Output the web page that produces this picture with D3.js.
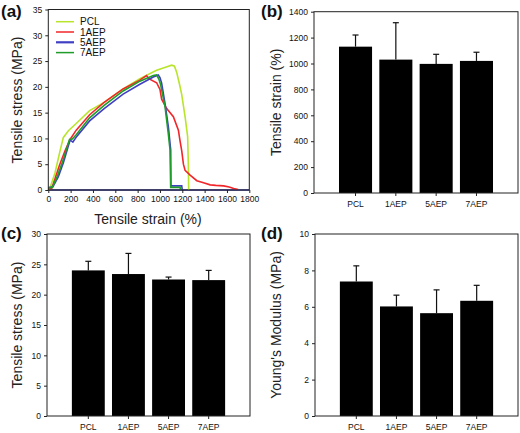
<!DOCTYPE html>
<html><head><meta charset="utf-8">
<script src="https://cdn.jsdelivr.net/npm/d3@7"></script>
<style>
html,body{margin:0;padding:0;background:#fff;}
svg{display:block;font-family:"Liberation Sans",Arial,sans-serif;}
</style></head>
<body><svg id="c" width="520" height="433"></svg>
<script>
// ---------- Data ----------
const curveNames = ["PCL","1AEP","5AEP","7AEP"];
const curveColors = ["#b8e42a","#f2262a","#3f3fc4","#1f9c2a"];
const pclCurve = [[0,0],[15,0.4],[60,3.3],[105,7.6],[135,10.2],[180,11.5],[250,12.9],[370,15.4],[500,17.0],[670,19.6],[820,21.6],[970,23.2],[1050,23.8],[1105,24.2],[1130,24.0],[1150,22.8],[1175,20.5],[1195,18.5],[1225,14.2],[1248,10.3],[1254,5],[1257,0]];
const aep1Curve = [[0,0.2],[30,0.3],[60,2.2],[100,4.8],[150,7.6],[195,9.8],[250,11.6],[370,14.6],[500,17.0],[670,19.6],[820,21.3],[880,22.2],[900,21.6],[970,20.8],[1000,19.5],[1015,17.6],[1060,15.8],[1120,14.2],[1165,11.6],[1180,9.5],[1195,7.6],[1210,5],[1225,3.8],[1270,2.9],[1330,1.8],[1390,1.4],[1450,1.0],[1500,0.9],[1570,0.8],[1620,0.6],[1660,0.3],[1700,0.1]];
const aep5Curve = [[0,0.5],[40,0.6],[90,2.6],[135,5.3],[195,9.7],[220,9.3],[255,10.4],[370,13.4],[500,15.8],[670,18.6],[820,20.5],[940,21.9],[985,22.3],[1000,21.8],[1015,20.7],[1045,16.8],[1075,12.3],[1096,7.8],[1098,0.8],[1150,0.8],[1195,0.8],[1200,0]];
const aep7Curve = [[0,0.4],[35,0.5],[80,2.6],[130,5.6],[190,9.8],[215,9.9],[250,10.7],[370,14.0],[500,16.4],[670,19.2],[820,21.1],[940,22.2],[970,22.3],[990,21.5],[1005,20.5],[1045,16.2],[1074,11],[1090,7.8],[1096,0.5],[1180,0.5],[1185,0]];
const curves = [pclCurve, aep1Curve, aep5Curve, aep7Curve];
const strainTicks = [0,200,400,600,800,1000,1200,1400,1600,1800];
const stressTicksA = [0,5,10,15,20,25,30,35];

const categories = ["PCL","1AEP","5AEP","7AEP"];
const strainMean = [1130,1030,997,1020];
const strainErr  = [90,285,74,67];
const stressMean = [24.0,23.4,22.5,22.4];
const stressErr  = [1.5,3.4,0.4,1.6];
const modulusMean = [7.39,6.02,5.65,6.33];
const modulusErr  = [0.86,0.62,1.28,0.85];
const strainBarTicks = [0,200,400,600,800,1000,1200,1400];
const stressBarTicks = [0,5,10,15,20,25,30];
const modulusTicks = [0,2,4,6,8,10];

// ---------- Drawing ----------
const svg = d3.select("#c");
const fmt = d3.format("d");

function frame(g, x0, x1, y0, y1){
  g.append("rect").attr("x",x0).attr("y",y1).attr("width",x1-x0).attr("height",y0-y1)
   .attr("fill","none").attr("stroke","#222").attr("stroke-width",1);
}
function styleAxis(a){
  a.select(".domain").remove();
  a.selectAll("line").attr("stroke","#222");
  a.selectAll("text").attr("font-size","8.5px").attr("fill","#111");
}
function panelLabel(t,x,y){
  svg.append("text").attr("x",x).attr("y",y).attr("font-size","17px").attr("font-weight","bold").attr("fill","#111").text(t);
}
function yLabel(t,x,cy){
  svg.append("text").attr("transform",`translate(${x},${cy}) rotate(-90)`).attr("text-anchor","middle")
    .attr("font-size","14px").attr("fill","#222").text(t);
}

// Panel (a)
{
  const x = d3.scaleLinear().domain([0,1800]).range([48.3,249.3]);
  const y = d3.scaleLinear().domain([0,35]).range([190,9.5]);
  const g = svg.append("g");
  const line = d3.line().x(d=>x(d[0])).y(d=>y(d[1]));
  g.append("line").attr("x1",x(0)).attr("x2",x(1800)).attr("y1",y(0)).attr("y2",y(0)).attr("stroke","#2a2a9a").attr("stroke-width",1.5);
  curves.forEach((c,i)=>{
    g.append("path").datum(c).attr("d",line).attr("fill","none").attr("stroke",curveColors[i]).attr("stroke-width",1.6);
  });
  frame(g,48.3,249.3,190,9.5);
  styleAxis(g.append("g").attr("transform","translate(0,190)").call(d3.axisBottom(x).tickValues(strainTicks).tickFormat(fmt).tickSize(3).tickPadding(3)));
  styleAxis(g.append("g").attr("transform","translate(48.3,0)").call(d3.axisLeft(y).tickValues(stressTicksA).tickFormat(fmt).tickSize(3).tickPadding(3)));
  curveNames.forEach((n,i)=>{
    const yy = 21.7 + i*10.3;
    g.append("line").attr("x1",56).attr("x2",74).attr("y1",yy).attr("y2",yy).attr("stroke",curveColors[i]).attr("stroke-width",i==2?2.2:1.5);
    g.append("text").attr("x",80).attr("y",yy+3.5).attr("font-size","10px").attr("fill","#111").text(n);
  });
  yLabel("Tensile stress (MPa)",22,100);
  svg.append("text").attr("x",148).attr("y",224).attr("text-anchor","middle").attr("font-size","14px").attr("fill","#222").text("Tensile strain (%)");
  panelLabel("(a)",1,17);
}

function barPanel(x0,x1,yb,yt,maxV,ticks,mean,err,ylab,labX,lab,labPos){
  const x = d3.scaleBand().domain(categories).range([x0,x1]).paddingInner(0.18).paddingOuter(0.62);
  const y = d3.scaleLinear().domain([0,maxV]).range([yb,yt]);
  const g = svg.append("g");
  categories.forEach((c,i)=>{
    const cx = x(c)+x.bandwidth()/2;
    g.append("line").attr("x1",cx).attr("x2",cx).attr("y1",y(mean[i])).attr("y2",y(mean[i]+err[i])).attr("stroke","#111").attr("stroke-width",1.2);
    g.append("line").attr("x1",cx-3).attr("x2",cx+3).attr("y1",y(mean[i]+err[i])).attr("y2",y(mean[i]+err[i])).attr("stroke","#111").attr("stroke-width",1.2);
    g.append("rect").attr("x",x(c)).attr("y",y(mean[i])).attr("width",x.bandwidth()).attr("height",yb-y(mean[i])).attr("fill","#000");
  });
  frame(g,x0,x1,yb,yt);
  styleAxis(g.append("g").attr("transform",`translate(0,${yb})`).call(d3.axisBottom(x).tickSize(3).tickPadding(5)));
  styleAxis(g.append("g").attr("transform",`translate(${x0},0)`).call(d3.axisLeft(y).tickValues(ticks).tickFormat(fmt).tickSize(3).tickPadding(3)));
  yLabel(ylab,labX,(yb+yt)/2);
  panelLabel(lab,labPos[0],labPos[1]);
}

barPanel(314,518,193,11.7,1400,strainBarTicks,strainMean,strainErr,"Tensile strain (%)",281,"(b)",[261,17]);
barPanel(47,250,416,234,30,stressBarTicks,stressMean,stressErr,"Tensile stress (MPa)",22,"(c)",[1,239]);
barPanel(315,518,416,234,10,modulusTicks,modulusMean,modulusErr,"Young's Modulus (MPa)",281,"(d)",[261,239]);
</script></body></html>
